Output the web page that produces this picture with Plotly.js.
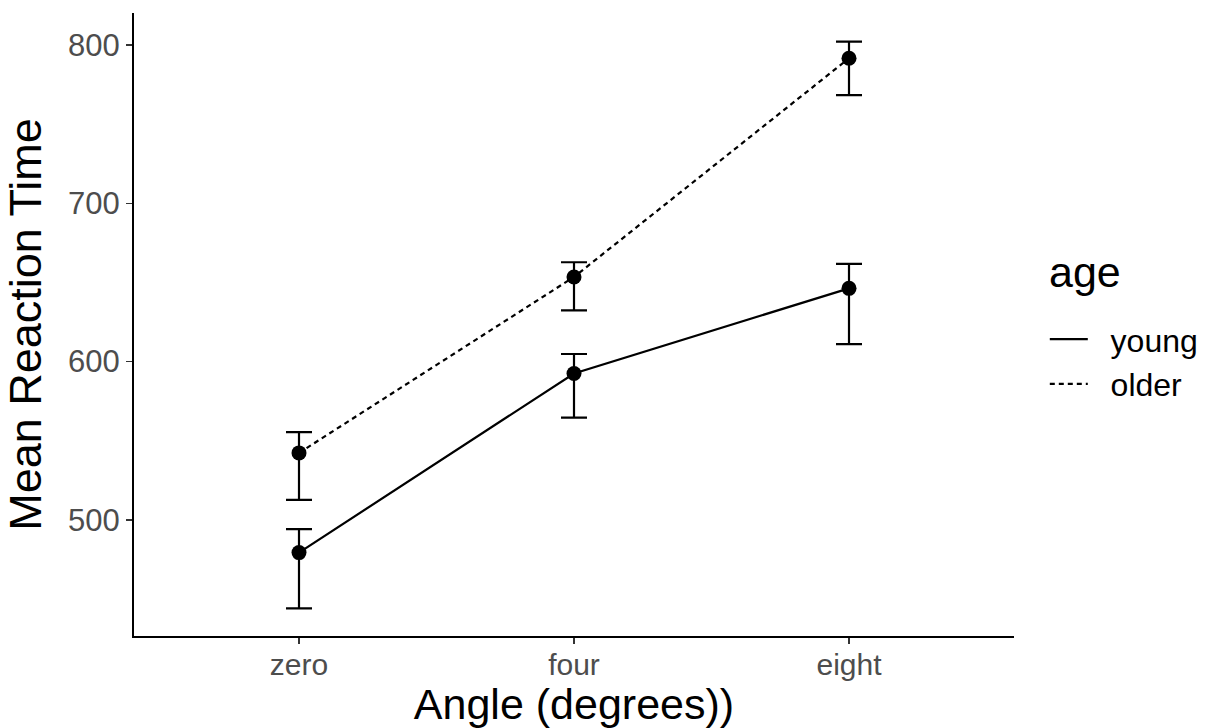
<!DOCTYPE html>
<html>
<head>
<meta charset="utf-8">
<script src="https://cdn.plot.ly/plotly-3.0.1.min.js"></script>
<style>html,body{margin:0;padding:0;background:#fff;}#chart{width:1225px;height:728px;}</style>
</head>
<body>
<div id="chart"></div>
<script>
const angles = ["zero", "four", "eight"];
const youngMean = [479.3, 592.5, 646.3];
const youngUpper = [494.2, 604.8, 661.8];
const youngLower = [444.0, 564.6, 611.0];
const olderMean = [542.3, 653.5, 791.7];
const olderUpper = [555.4, 662.8, 802.2];
const olderLower = [512.6, 632.4, 768.4];
const seriesNames = ["young", "older"];
const legendTitle = "age";

function diff(a, b) { return a.map((v, i) => v - b[i]); }

const font = "Liberation Sans, Arial, sans-serif";
const dotted = "5px,4px";
const pad = "\u00A0\u00A0";

function series(mean, upper, lower, dash) {
  return {
    type: "scatter", mode: "lines+markers", x: angles, y: mean,
    line: {color: "#000", width: 2.2, dash: dash},
    marker: {color: "#000", size: 15},
    error_y: {type: "data", symmetric: false, array: diff(upper, mean), arrayminus: diff(mean, lower),
      color: "#000", thickness: 2.2, width: 13},
    showlegend: false, hoverinfo: "skip"
  };
}
function legendTrace(name, dash) {
  return {type: "scatter", mode: "lines", x: [null], y: [null], name: pad + name,
    line: {color: "#000", width: 2.2, dash: dash}, showlegend: true};
}

const data = [
  series(youngMean, youngUpper, youngLower, "solid"),
  series(olderMean, olderUpper, olderLower, dotted),
  legendTrace(seriesNames[0], "solid"),
  legendTrace(seriesNames[1], dotted)
];

const layout = {
  width: 1225, height: 728,
  margin: {l: 134, r: 211, t: 13, b: 92},
  paper_bgcolor: "#fff", plot_bgcolor: "#fff",
  font: {family: font, color: "#000"},
  xaxis: {
    type: "category", range: [-0.6, 2.6],
    showline: true, linecolor: "#000", linewidth: 2, showgrid: false, zeroline: false,
    ticks: "outside", ticklen: 6, tickwidth: 1.5, tickcolor: "#333", ticklabelstandoff: -5,
    tickfont: {size: 30, color: "#4D4D4D", family: font},
    title: {text: "Angle (degrees))", font: {size: 43, color: "#000", family: font}, standoff: 3}
  },
  yaxis: {
    range: [426.6, 820.3], tickvals: [500, 600, 700, 800],
    showline: true, linecolor: "#000", linewidth: 2, showgrid: false, zeroline: false,
    ticks: "outside", ticklen: 6, tickwidth: 1.5, tickcolor: "#333",
    tickfont: {size: 31, color: "#4D4D4D", family: font},
    title: {text: "Mean Reaction Time", font: {size: 45, color: "#000", family: font}, standoff: 12}
  },
  legend: {
    x: 1.035, xanchor: "left", y: 0.44, yanchor: "middle",
    font: {size: 32, color: "#000", family: font},
    itemwidth: 38, tracegroupgap: 0, bgcolor: "rgba(0,0,0,0)"
  },
  annotations: [{
    text: legendTitle, xref: "paper", yref: "paper", x: 1.037, y: 0.585,
    xanchor: "left", yanchor: "middle", showarrow: false,
    font: {size: 43, color: "#000", family: font}
  }]
};

Plotly.newPlot("chart", data, layout, {displayModeBar: false, staticPlot: true});
</script>
</body>
</html>
